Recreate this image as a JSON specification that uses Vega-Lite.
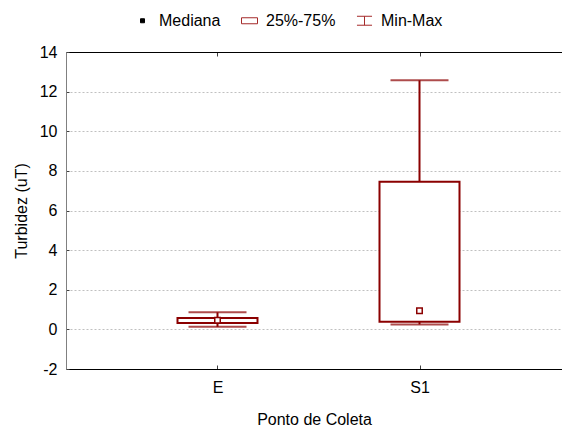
{
  "$schema": "https://vega.github.io/schema/vega-lite/v6.json",
  "width": 496,
  "height": 317,
  "autosize": "none",
  "padding": {"left": 66, "top": 52, "right": 0, "bottom": 58},
  "config": {
    "font": "Liberation Sans",
    "view": {"stroke": null},
    "axis": {"labelFontSize": 16, "titleFontSize": 16, "titleFontWeight": "normal", "labelColor": "#000000", "titleColor": "#000000"},
    "axisY": {"tickCount": 10, "labelOverlap": false, "grid": true, "gridDash": [2, 2], "gridColor": "#c0c0c0", "domainColor": "#808080", "tickColor": "#404040", "tickSize": -3, "labelPadding": 12, "titlePadding": 10},
    "legend": {"labelFontSize": 16, "labelColor": "#000000"}
  },
  "datasets": {
    "box": [
      {"ponto": "E", "min": 0.13, "q1": 0.32, "mediana": 0.46, "q3": 0.57, "max": 0.86},
      {"ponto": "S1", "min": 0.25, "q1": 0.38, "mediana": 0.94, "q3": 7.45, "max": 12.57}
    ],
    "leg": [{"item": "Mediana"}, {"item": "25%-75%"}, {"item": "Min-Max"}]
  },
  "layer": [
    {
      "data": {"name": "box"},
      "mark": {"type": "rule", "color": "#8b0000", "strokeWidth": 2},
      "encoding": {
        "x": {"field": "ponto", "type": "nominal",
          "scale": {"type": "point", "domain": ["E", "S1"], "padding": 0.7277, "align": 0.5153},
          "axis": {"orient": "bottom", "title": "Ponto de Coleta", "labelAngle": 0, "domainColor": "#000000", "tickColor": "#404040", "tickSize": -4, "labelPadding": 14, "titlePadding": 16}},
        "y": {"field": "min", "type": "quantitative",
          "scale": {"domain": [-2, 14], "nice": false, "zero": false},
          "axis": {"title": "Turbidez (uT)", "values": [-2, 0, 2, 4, 6, 8, 10, 12, 14], "labelExpr": "'' + datum.value", "labelOverlap": false, "tickCount": 10}},
        "y2": {"field": "max"}
      }
    },
    {
      "data": {"name": "box"},
      "mark": {"type": "tick", "color": "#8b0000", "thickness": 2, "size": 58, "orient": "horizontal"},
      "encoding": {
        "x": {"field": "ponto", "type": "nominal", "axis": {"orient": "top", "labels": false, "title": null, "labelAngle": 0, "domainColor": "#000000", "tickColor": "#404040", "tickSize": -4}},
        "y": {"field": "min", "type": "quantitative", "axis": {"title": "Turbidez (uT)", "values": [-2, 0, 2, 4, 6, 8, 10, 12, 14], "labelExpr": "'' + datum.value", "labelOverlap": false, "tickCount": 10}}
      }
    },
    {
      "data": {"name": "box"},
      "mark": {"type": "tick", "color": "#8b0000", "thickness": 2, "size": 58, "orient": "horizontal"},
      "encoding": {
        "x": {"field": "ponto", "type": "nominal", "axis": null},
        "y": {"field": "max", "type": "quantitative", "axis": {"title": "Turbidez (uT)", "values": [-2, 0, 2, 4, 6, 8, 10, 12, 14], "labelExpr": "'' + datum.value", "labelOverlap": false, "tickCount": 10}}
      }
    },
    {
      "data": {"name": "box"},
      "mark": {"type": "bar", "fill": "#ffffff", "stroke": "#8b0000", "strokeWidth": 2, "size": 80},
      "encoding": {
        "x": {"field": "ponto", "type": "nominal", "axis": null},
        "y": {"field": "q1", "type": "quantitative", "axis": {"title": "Turbidez (uT)", "values": [-2, 0, 2, 4, 6, 8, 10, 12, 14], "labelExpr": "'' + datum.value", "labelOverlap": false, "tickCount": 10}},
        "y2": {"field": "q3"}
      }
    },
    {
      "data": {"name": "box"},
      "mark": {"type": "point", "shape": "square", "size": 30, "filled": false, "fill": "#ffffff", "stroke": "#8b0000", "strokeWidth": 1.5, "opacity": 1},
      "encoding": {
        "x": {"field": "ponto", "type": "nominal", "axis": null},
        "y": {"field": "mediana", "type": "quantitative", "axis": {"title": "Turbidez (uT)", "values": [-2, 0, 2, 4, 6, 8, 10, 12, 14], "labelExpr": "'' + datum.value", "labelOverlap": false, "tickCount": 10}}
      }
    },
    {
      "data": {"name": "leg"},
      "mark": {"type": "point", "opacity": 0, "strokeWidth": 1},
      "encoding": {
        "stroke": {"field": "item", "type": "nominal",
          "scale": {"domain": ["Mediana", "25%-75%", "Min-Max"], "range": ["#000000", "#a52a2a", "#a52a2a"]},
          "legend": {"title": null, "orient": "none", "legendX": 68, "legendY": -40, "direction": "horizontal", "symbolSize": 256, "labelOffset": 8, "columnPadding": 18, "padding": 0, "symbolOpacity": 1, "symbolStrokeWidth": 1, "labelFontSize": 16}},
        "fill": {"field": "item", "type": "nominal",
          "scale": {"domain": ["Mediana", "25%-75%", "Min-Max"], "range": ["#000000", "#ffffff", "#ffffff"]},
          "legend": {"title": null, "orient": "none", "legendX": 68, "legendY": -40, "direction": "horizontal", "symbolSize": 256, "labelOffset": 8, "columnPadding": 18, "padding": 0, "symbolOpacity": 1, "symbolStrokeWidth": 1, "labelFontSize": 16}},
        "shape": {"field": "item", "type": "nominal",
          "scale": {"domain": ["Mediana", "25%-75%", "Min-Max"], "range": ["M-0.25,-0.25H0.25V0.25H-0.25Z", "M-1,-0.375H1V0.375H-1Z", "M-0.94,-0.56H0.94M0,-0.56V0.56M-0.94,0.56H0.94"]},
          "legend": {"title": null, "orient": "none", "legendX": 68, "legendY": -40, "direction": "horizontal", "symbolSize": 256, "labelOffset": 8, "columnPadding": 18, "padding": 0, "symbolOpacity": 1, "symbolStrokeWidth": 1, "labelFontSize": 16}}
      }
    }
  ]
}
